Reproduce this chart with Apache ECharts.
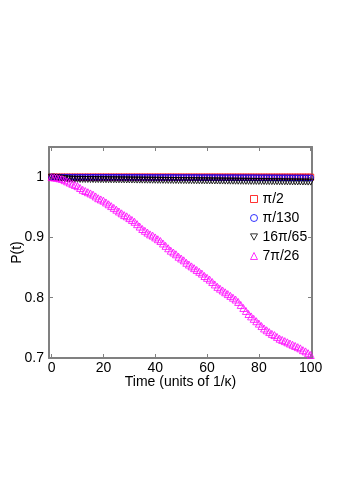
<!DOCTYPE html>
<html>
<head>
<meta charset="utf-8">
<script src="https://cdn.jsdelivr.net/npm/echarts@6/dist/echarts.min.js"></script>
<style>
  html, body { margin: 0; padding: 0; background: #fff; }
  #chart { width: 338px; height: 486px; }
</style>
</head>
<body>
<div id="chart"></div>
<script>
// time steps 0..100 (units of 1/kappa)
const times = []
for (let i = 0; i <= 100; i++) times.push(i)

const seriesNames = ['π/2', 'π/130', '16π/65', '7π/26']

// pi/2 : stays at 1
const pHalf = [
  1, 1, 1, 1, 1, 1, 1, 1, 1, 1, 1, 1, 1, 1, 1, 1, 1, 1, 1, 1,
  1, 1, 1, 1, 1, 1, 1, 1, 1, 1, 1, 1, 1, 1, 1, 1, 1, 1, 1, 1,
  1, 1, 1, 1, 1, 1, 1, 1, 1, 1, 1, 1, 1, 1, 1, 1, 1, 1, 1, 1,
  1, 1, 1, 1, 1, 1, 1, 1, 1, 1, 1, 1, 1, 1, 1, 1, 1, 1, 1, 1,
  1, 1, 1, 1, 1, 1, 1, 1, 1, 1, 1, 1, 1, 1, 1, 1, 1, 1, 1, 1, 1
]

// pi/130 : tiny decay
const pOne30 = [
  1, 0.9999, 0.9999, 0.9998, 0.9998, 0.9998, 0.9998, 0.9998, 0.9998, 0.9998,
  0.9998, 0.9998, 0.9998, 0.9998, 0.9998, 0.9997, 0.9997, 0.9997, 0.9997, 0.9997,
  0.9997, 0.9997, 0.9997, 0.9997, 0.9997, 0.9997, 0.9997, 0.9996, 0.9996, 0.9996,
  0.9996, 0.9996, 0.9996, 0.9996, 0.9996, 0.9996, 0.9996, 0.9996, 0.9995, 0.9995,
  0.9995, 0.9995, 0.9995, 0.9995, 0.9995, 0.9995, 0.9995, 0.9995, 0.9994, 0.9994,
  0.9994, 0.9994, 0.9994, 0.9994, 0.9994, 0.9994, 0.9994, 0.9993, 0.9993, 0.9993,
  0.9993, 0.9993, 0.9993, 0.9993, 0.9993, 0.9992, 0.9992, 0.9992, 0.9992, 0.9992,
  0.9992, 0.9992, 0.9991, 0.9991, 0.9991, 0.9991, 0.9991, 0.9991, 0.9991, 0.999,
  0.999, 0.999, 0.999, 0.999, 0.999, 0.999, 0.9989, 0.9989, 0.9989, 0.9989,
  0.9989, 0.9989, 0.9988, 0.9988, 0.9988, 0.9988, 0.9988, 0.9988, 0.9987, 0.9987, 0.9987
]

// 16pi/65 : quick small drop then slow decay
const p16_65 = [
  1, 0.9995, 0.999, 0.9985, 0.998, 0.9975, 0.997, 0.9967, 0.9965, 0.9964,
  0.9963, 0.9962, 0.9962, 0.9961, 0.9961, 0.996, 0.996, 0.9959, 0.9959, 0.9958,
  0.9958, 0.9957, 0.9957, 0.9956, 0.9956, 0.9955, 0.9955, 0.9954, 0.9954, 0.9953,
  0.9953, 0.9952, 0.9952, 0.9951, 0.9951, 0.995, 0.995, 0.9949, 0.9949, 0.9948,
  0.9948, 0.9947, 0.9947, 0.9946, 0.9946, 0.9945, 0.9945, 0.9944, 0.9944, 0.9943,
  0.9943, 0.9942, 0.9942, 0.9941, 0.9941, 0.994, 0.994, 0.9939, 0.9939, 0.9938,
  0.9938, 0.9937, 0.9937, 0.9936, 0.9936, 0.9935, 0.9935, 0.9934, 0.9934, 0.9933,
  0.9933, 0.9932, 0.9932, 0.9931, 0.9931, 0.993, 0.993, 0.9929, 0.9929, 0.9928,
  0.9928, 0.9927, 0.9927, 0.9926, 0.9926, 0.9925, 0.9925, 0.9924, 0.9924, 0.9923,
  0.9923, 0.9922, 0.9922, 0.9921, 0.9921, 0.992, 0.992, 0.9919, 0.9919, 0.9918, 0.9918
]

// 7pi/26 : steady decay down to ~0.705
const p7_26 = [
  1, 0.9995, 0.999, 0.998, 0.997, 0.995, 0.993, 0.991, 0.989, 0.987,
  0.985, 0.982, 0.979, 0.977, 0.975, 0.973, 0.971, 0.968, 0.965, 0.963,
  0.961, 0.958, 0.955, 0.952, 0.949, 0.946, 0.943, 0.94, 0.937, 0.935,
  0.932, 0.929, 0.926, 0.922, 0.918, 0.914, 0.911, 0.908, 0.905, 0.903,
  0.9, 0.897, 0.894, 0.89, 0.886, 0.882, 0.878, 0.875, 0.872, 0.868,
  0.865, 0.862, 0.858, 0.855, 0.852, 0.849, 0.846, 0.843, 0.84, 0.836,
  0.833, 0.83, 0.826, 0.822, 0.818, 0.815, 0.812, 0.809, 0.806, 0.803,
  0.8, 0.797, 0.793, 0.788, 0.783, 0.778, 0.773, 0.769, 0.765, 0.761,
  0.757, 0.753, 0.749, 0.746, 0.743, 0.74, 0.738, 0.735, 0.732, 0.73,
  0.728, 0.726, 0.724, 0.722, 0.72, 0.718, 0.716, 0.713, 0.711, 0.708, 0.705
]

const xTicks = [0, 20, 40, 60, 80, 100]
const yTicks = [0.7, 0.8, 0.9, 1]

const font = "'Liberation Sans', Arial, sans-serif"
const axisGray = '#808080'

const pairs = (ys) => times.map((t, i) => [t, ys[i]])

const makeSeries = (name, ys, symbol, color, size) => ({
  name,
  type: 'scatter',
  data: pairs(ys),
  symbol,
  symbolSize: size,
  itemStyle: {
    color: 'rgba(255,255,255,0)',
    borderColor: color,
    borderWidth: 1
  },
  emphasis: { disabled: true },
  animation: false
})

const chart = echarts.init(document.getElementById('chart'))

const baseX = {
  type: 'value',
  min: -1,
  max: 100.5,
  axisLine: { show: true, onZero: false, lineStyle: { color: axisGray, width: 2 } },
  axisTick: { show: true, inside: true, length: 4, customValues: xTicks, lineStyle: { color: axisGray } },
  splitLine: { show: false }
}
const baseY = {
  type: 'value',
  min: 0.7,
  max: 1.05,
  axisLine: { show: true, onZero: false, lineStyle: { color: axisGray, width: 2 } },
  axisTick: { show: true, inside: true, length: 4, customValues: yTicks, lineStyle: { color: axisGray } },
  splitLine: { show: false }
}

const option = {
  backgroundColor: '#fff',
  animation: false,
  grid: { left: 49, right: 26, top: 147, bottom: 128, containLabel: false, outerBoundsMode: 'none' },
  legend: {
    orient: 'vertical',
    left: 245,
    top: 187,
    itemWidth: 7,
    itemHeight: 7,
    itemGap: 5,
    itemStyle: { borderWidth: 1 },
    textStyle: { fontFamily: font, fontSize: 14, color: '#000' },
    data: seriesNames
  },
  xAxis: [
    Object.assign({}, baseX, {
      position: 'bottom',
      name: 'Time (units of 1/κ)',
      nameLocation: 'middle',
      nameGap: 17,
      nameMoveOverlap: false,
      nameTextStyle: { fontFamily: font, fontSize: 14, color: '#000' },
      axisLabel: { customValues: xTicks, margin: 3, fontFamily: font, fontSize: 14, color: '#000' }
    }),
    Object.assign({}, baseX, { position: 'top', axisLabel: { show: false } })
  ],
  yAxis: [
    Object.assign({}, baseY, {
      position: 'left',
      name: 'P(t)',
      nameLocation: 'middle',
      nameGap: 25,
      nameMoveOverlap: false,
      nameTextStyle: { fontFamily: font, fontSize: 14, color: '#000' },
      axisLabel: { customValues: yTicks, margin: 5, fontFamily: font, fontSize: 14, color: '#000' }
    }),
    Object.assign({}, baseY, { position: 'right', axisLabel: { show: false } })
  ],
  series: [
    makeSeries(seriesNames[0], pHalf, 'rect', '#ff0000', 6),
    makeSeries(seriesNames[1], pOne30, 'circle', '#0000ff', 6),
    makeSeries(seriesNames[2], p16_65, 'path://M0,0 L10,0 L5,9 Z', '#000000', 6),
    makeSeries(seriesNames[3], p7_26, 'triangle', '#ff00ff', 7)
  ]
}

chart.setOption(option)
</script>
</body>
</html>
